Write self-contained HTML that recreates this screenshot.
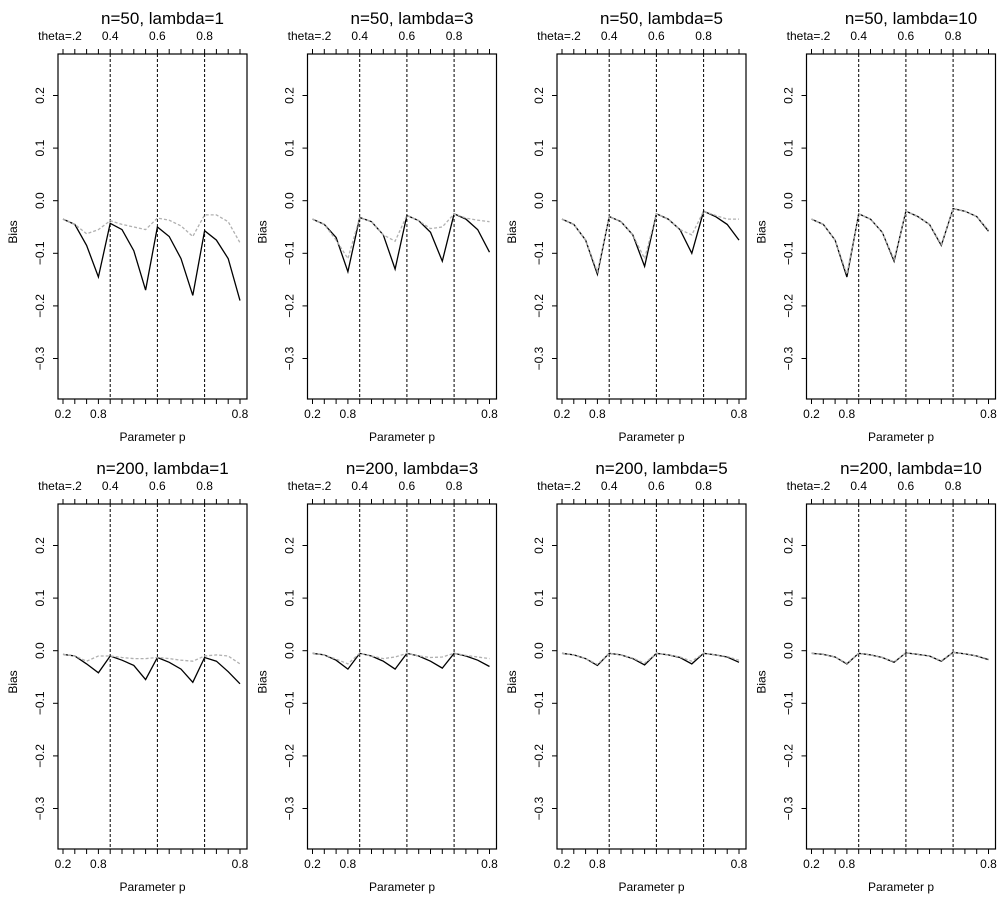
<!DOCTYPE html>
<html><head><meta charset="utf-8"><style>
html,body{margin:0;padding:0;background:#fff;}
svg{display:block;font-family:"Liberation Sans",Arial,sans-serif;}
</style></head><body>
<svg id="s" width="997" height="898" viewBox="0 0 997 898" xmlns="http://www.w3.org/2000/svg"></svg>
<script>
const D=[
 {t:"n=50, lambda=1",b:[-0.035,-0.045,-0.085,-0.145,-0.043,-0.055,-0.095,-0.17,-0.05,-0.068,-0.11,-0.18,-0.057,-0.075,-0.11,-0.19],
  g:[-0.035,-0.045,-0.063,-0.055,-0.038,-0.045,-0.05,-0.055,-0.033,-0.037,-0.048,-0.068,-0.027,-0.027,-0.04,-0.08]},
 {t:"n=50, lambda=3",b:[-0.035,-0.045,-0.07,-0.135,-0.032,-0.04,-0.065,-0.13,-0.028,-0.038,-0.06,-0.115,-0.025,-0.035,-0.055,-0.098],
  g:[-0.035,-0.045,-0.075,-0.11,-0.032,-0.04,-0.065,-0.077,-0.028,-0.038,-0.053,-0.05,-0.025,-0.033,-0.037,-0.04]},
 {t:"n=50, lambda=5",b:[-0.035,-0.045,-0.075,-0.14,-0.03,-0.04,-0.065,-0.125,-0.025,-0.035,-0.055,-0.1,-0.02,-0.03,-0.045,-0.075],
  g:[-0.035,-0.045,-0.075,-0.135,-0.03,-0.04,-0.065,-0.11,-0.025,-0.035,-0.055,-0.065,-0.02,-0.028,-0.035,-0.035]},
 {t:"n=50, lambda=10",b:[-0.035,-0.045,-0.075,-0.145,-0.025,-0.035,-0.06,-0.115,-0.02,-0.03,-0.045,-0.085,-0.015,-0.02,-0.03,-0.058],
  g:[-0.035,-0.045,-0.075,-0.14,-0.025,-0.035,-0.06,-0.112,-0.02,-0.03,-0.045,-0.083,-0.015,-0.02,-0.03,-0.056]},
 {t:"n=200, lambda=1",b:[-0.007,-0.01,-0.025,-0.042,-0.01,-0.018,-0.028,-0.055,-0.013,-0.022,-0.035,-0.06,-0.013,-0.02,-0.04,-0.063],
  g:[-0.007,-0.01,-0.02,-0.01,-0.01,-0.013,-0.015,-0.015,-0.013,-0.015,-0.018,-0.02,-0.01,-0.008,-0.01,-0.025]},
 {t:"n=200, lambda=3",b:[-0.005,-0.008,-0.018,-0.035,-0.005,-0.01,-0.02,-0.035,-0.005,-0.01,-0.02,-0.033,-0.005,-0.01,-0.018,-0.03],
  g:[-0.005,-0.008,-0.016,-0.025,-0.005,-0.01,-0.015,-0.012,-0.005,-0.01,-0.013,-0.012,-0.005,-0.009,-0.012,-0.015]},
 {t:"n=200, lambda=5",b:[-0.005,-0.008,-0.015,-0.028,-0.005,-0.008,-0.015,-0.027,-0.005,-0.008,-0.013,-0.025,-0.005,-0.008,-0.012,-0.022],
  g:[-0.005,-0.008,-0.015,-0.026,-0.005,-0.008,-0.014,-0.024,-0.005,-0.008,-0.012,-0.02,-0.005,-0.008,-0.011,-0.018]},
 {t:"n=200, lambda=10",b:[-0.005,-0.007,-0.012,-0.025,-0.005,-0.008,-0.013,-0.022,-0.004,-0.007,-0.01,-0.02,-0.003,-0.006,-0.01,-0.017],
  g:[-0.005,-0.007,-0.012,-0.024,-0.005,-0.008,-0.013,-0.021,-0.004,-0.007,-0.01,-0.019,-0.003,-0.006,-0.01,-0.016]}
];
let h="";
D.forEach((p,i)=>{
 const ox=(i%4)*249.5, oy=Math.floor(i/4)*450;
 const L=58+ox,R=247+ox,T=54+oy,B=399+oy;
 const X=k=>63+ox+k*11.8, Y=v=>200.7+oy-v*526;
 h+=`<rect x="${L}" y="${T}" width="${R-L}" height="${B-T}" fill="none" stroke="#000" stroke-width="1.2"/>`;
 h+=`<text x="${(L+R)/2+10}" y="${24+oy}" font-size="17" text-anchor="middle">${p.t}</text>`;
 for(let k=0;k<16;k++){h+=`<line x1="${X(k)}" y1="${T}" x2="${X(k)}" y2="${T-5}" stroke="#000"/><line x1="${X(k)}" y1="${B}" x2="${X(k)}" y2="${B+5}" stroke="#000"/>`;}
 [["theta=.2",0],["0.4",4],["0.6",8],["0.8",12]].forEach(a=>h+=`<text x="${X(a[1])-(a[1]?0:3)}" y="${40+oy}" font-size="12" text-anchor="middle">${a[0]}</text>`);
 [["0.2",0],["0.8",3],["0.8",15]].forEach(a=>h+=`<text x="${X(a[1])}" y="${418+oy}" font-size="12" text-anchor="middle">${a[0]}</text>`);
 h+=`<text x="${(L+R)/2}" y="${441+oy}" font-size="12" text-anchor="middle">Parameter p</text>`;
 h+=`<text transform="translate(${17+ox},${232+oy}) rotate(-90)" font-size="12" text-anchor="middle">Bias</text>`;
 [0.2,0.1,0.0,-0.1,-0.2,-0.3].forEach(v=>{const y=Y(v);h+=`<line x1="${L}" y1="${y}" x2="${L-5}" y2="${y}" stroke="#000"/><text transform="translate(${L-14},${y}) rotate(-90)" font-size="12" text-anchor="middle">${v===0?"0.0":(v<0?"\u2212"+Math.abs(v).toFixed(1):v.toFixed(1))}</text>`;});
 [4,8,12].forEach(k=>h+=`<line x1="${X(k)}" y1="${T}" x2="${X(k)}" y2="${B}" stroke="#000" stroke-dasharray="3,2"/>`);
 const pts=a=>a.map((v,k)=>X(k).toFixed(1)+","+Y(v).toFixed(1)).join(" ");
 h+=`<polyline points="${pts(p.b)}" fill="none" stroke="#000" stroke-width="1.3"/>`;
 h+=`<polyline points="${pts(p.g)}" fill="none" stroke="#b0b0b0" stroke-width="1.3" stroke-dasharray="3,2"/>`;
});
document.getElementById("s").innerHTML=h;
</script>
</body></html>
